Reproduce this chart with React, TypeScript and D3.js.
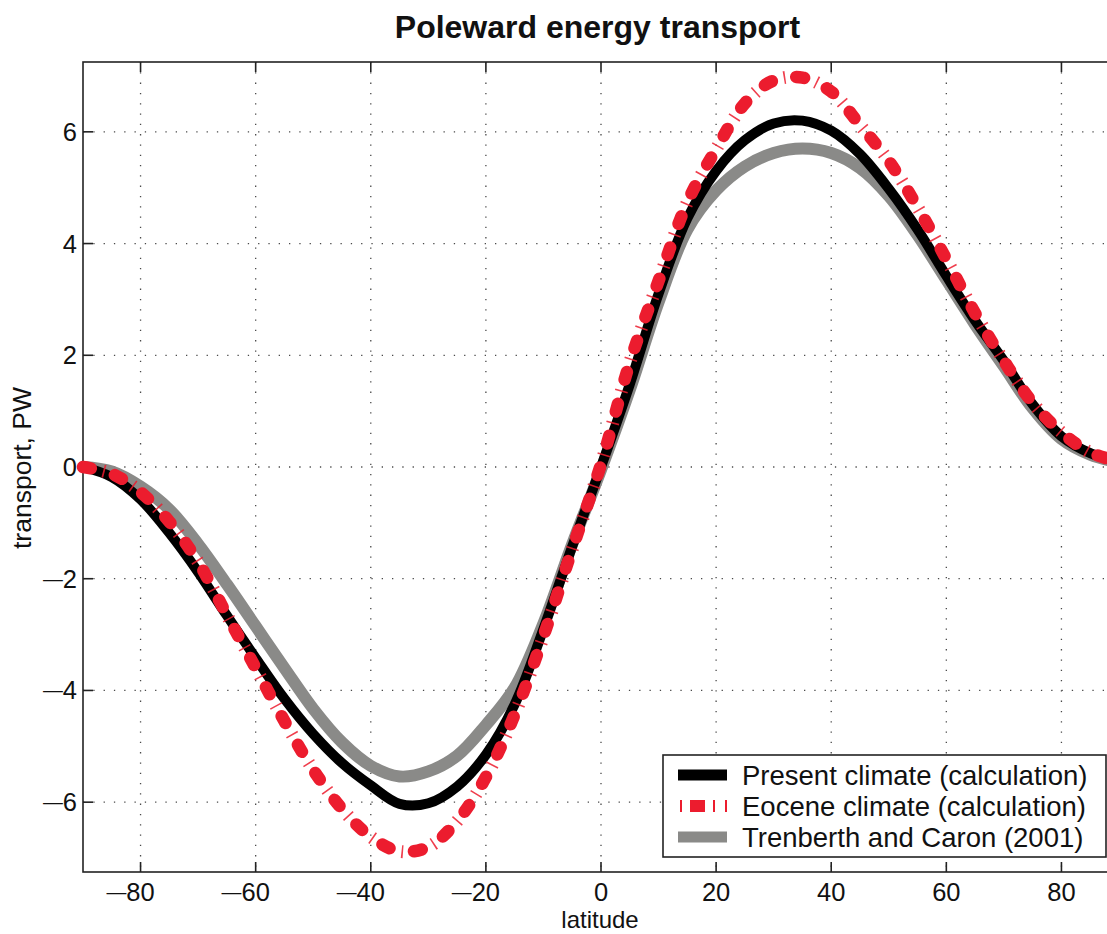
import React from 'react';
import * as d3 from 'd3';

const latitudes = [-90, -85, -80, -75, -70, -65, -60, -55, -50, -45, -40, -35, -30, -25, -20, -15, -10, -5, 0, 5, 10, 15, 20, 25, 30, 35, 40, 45, 50, 55, 60, 65, 70, 75, 80, 85, 90];
const presentClimate = [0, -0.18, -0.58, -1.18, -1.88, -2.66, -3.42, -4.15, -4.78, -5.3, -5.7, -6.03, -6.02, -5.72, -5.15, -4.25, -2.9, -1.42, 0, 1.48, 3.1, 4.45, 5.3, 5.85, 6.15, 6.2, 6.02, 5.6, 4.98, 4.25, 3.42, 2.62, 1.9, 1.12, 0.55, 0.25, 0.1];
const eoceneClimate = [0, -0.12, -0.45, -0.98, -1.7, -2.65, -3.6, -4.55, -5.42, -6.12, -6.62, -6.88, -6.8, -6.34, -5.55, -4.43, -3.03, -1.47, 0.05, 1.87, 3.33, 4.74, 5.69, 6.51, 6.92, 6.97, 6.72, 6.12, 5.48, 4.65, 3.72, 2.75, 1.9, 1.15, 0.62, 0.26, 0.1];
const trenberthCaron = [0, -0.08, -0.35, -0.76, -1.38, -2.1, -2.85, -3.6, -4.33, -4.93, -5.35, -5.54, -5.45, -5.17, -4.62, -3.95, -2.8, -1.38, -0.05, 1.38, 2.95, 4.25, 4.95, 5.38, 5.62, 5.7, 5.62, 5.35, 4.85, 4.15, 3.35, 2.55, 1.8, 1.05, 0.5, 0.22, 0.08];

const xTicks = [-80, -60, -40, -20, 0, 20, 40, 60, 80];
const yTicks = [-6, -4, -2, 0, 2, 4, 6];
const legendLabels = ['Present climate (calculation)', 'Eocene climate (calculation)', 'Trenberth and Caron (2001)'];
const titleText = 'Poleward energy transport';
const xLabel = 'latitude';
const yLabel = 'transport, PW';

const W = 1107;
const H = 934;
const FONT = "'Liberation Sans', Arial, Helvetica, sans-serif";
const RED = '#ec1c2e';
const GRAY = '#8a8a88';

const x = d3.scaleLinear().domain([-90, 90]).range([83, 1119]);
const y = d3.scaleLinear().domain([-7.25, 7.25]).range([872, 62]);

const line = (vals: number[]) =>
  d3
    .line<number>()
    .x((_, i) => x(latitudes[i]))
    .y((v) => y(v))
    .curve(d3.curveCatmullRom.alpha(0.5))(vals) as string;

function NumLabel({ v, px, py, anchor, size }: { v: number; px: number; py: number; anchor: 'middle' | 'end'; size: number }) {
  const digits = String(Math.abs(v));
  if (v < 0) {
    return (
      <text x={px} y={py} textAnchor="end" fontSize={size} fontFamily={FONT} fill="#111">
        <tspan fontSize={size * 0.78} dy={-2}>—</tspan>
        <tspan dy={2}>{digits}</tspan>
      </text>
    );
  }
  return (
    <text x={px} y={py} textAnchor={anchor} fontSize={size} fontFamily={FONT} fill="#111">
      {digits}
    </text>
  );
}

export default function App() {
  const left = x(-90);
  const right = x(90);
  const top = y(7.25);
  const bottom = y(-7.25);
  const tickFont = 25.5;
  const digitHalf = 0.556 * tickFont;

  const pPresent = line(presentClimate);
  const pEocene = line(eoceneClimate);
  const pTren = line(trenberthCaron);

  const lgX = 663;
  const lgY = 755;
  const rowY = [775, 806, 837];

  return (
    <div style={{ position: 'absolute', left: 0, top: 0 }}>
      <svg width={W} height={H} style={{ display: 'block', background: '#fff' }}>
        {/* grid */}
        <g stroke="#4a4a4a" strokeWidth={1.3} strokeDasharray="1.3 9">
          {xTicks.map((t) => (
            <line key={'gx' + t} x1={x(t)} x2={x(t)} y1={top} y2={bottom} />
          ))}
          {yTicks.map((t) => (
            <line key={'gy' + t} x1={left} x2={right} y1={y(t)} y2={y(t)} />
          ))}
        </g>
        {/* frame */}
        <rect x={left} y={top} width={right - left} height={bottom - top} fill="none" stroke="#222" strokeWidth={1.6} />
        {/* ticks */}
        <g stroke="#222" strokeWidth={1.6}>
          {xTicks.map((t) => (
            <g key={'tx' + t}>
              <line x1={x(t)} x2={x(t)} y1={bottom} y2={bottom - 10} />
              <line x1={x(t)} x2={x(t)} y1={top} y2={top + 10} />
            </g>
          ))}
          {yTicks.map((t) => (
            <g key={'ty' + t}>
              <line x1={left} x2={left + 10} y1={y(t)} y2={y(t)} />
              <line x1={right} x2={right - 10} y1={y(t)} y2={y(t)} />
            </g>
          ))}
        </g>
        {/* tick labels */}
        {xTicks.map((t) => (
          <NumLabel key={'lx' + t} v={t} px={t === 0 ? x(t) : t < 0 ? x(t) + digitHalf : x(t)} py={900.5} anchor="middle" size={tickFont} />
        ))}
        {yTicks.map((t) => (
          <NumLabel key={'ly' + t} v={t} px={77} py={y(t) + 9} anchor="end" size={tickFont} />
        ))}

        {/* series */}
        <path d={pTren} fill="none" stroke={GRAY} strokeWidth={12} strokeLinejoin="round" />
        <path d={pPresent} fill="none" stroke="#000" strokeWidth={10} strokeLinejoin="round" />
        <path d={pEocene} fill="none" stroke={RED} strokeWidth={12.5} strokeLinecap="round" strokeDasharray="8 25" />
        <path d={pEocene} fill="none" stroke={RED} strokeWidth={13} strokeDasharray="1.6 31.4" strokeDashoffset={12.5} opacity={0.85} />

        {/* legend */}
        <rect x={lgX} y={lgY} width={443} height={102} fill="#fff" stroke="#222" strokeWidth={1.6} />
        <line x1={678} x2={727} y1={rowY[0]} y2={rowY[0]} stroke="#000" strokeWidth={11} />
        <line x1={690} x2={705} y1={rowY[1]} y2={rowY[1]} stroke={RED} strokeWidth={12} />
        {[681, 714, 726].map((px) => (
          <line key={'lm' + px} x1={px} x2={px} y1={rowY[1] - 6} y2={rowY[1] + 6} stroke={RED} strokeWidth={2} />
        ))}
        <line x1={678} x2={727} y1={rowY[2]} y2={rowY[2]} stroke={GRAY} strokeWidth={11} />
        {legendLabels.map((l, i) => (
          <text key={l} x={742} y={rowY[i] + 9.5} fontSize={27.5} fontFamily={FONT} fill="#111">
            {l}
          </text>
        ))}

        {/* titles */}
        <text x={597.5} y={38} textAnchor="middle" fontSize={32} fontWeight="bold" fontFamily={FONT} fill="#111">
          {titleText}
        </text>
        <text x={600} y={928} textAnchor="middle" fontSize={24} fontFamily={FONT} fill="#111">
          {xLabel}
        </text>
        <text transform="translate(31,468) rotate(-90)" textAnchor="middle" fontSize={26.5} fontFamily={FONT} fill="#111">
          {yLabel}
        </text>
      </svg>
    </div>
  );
}
